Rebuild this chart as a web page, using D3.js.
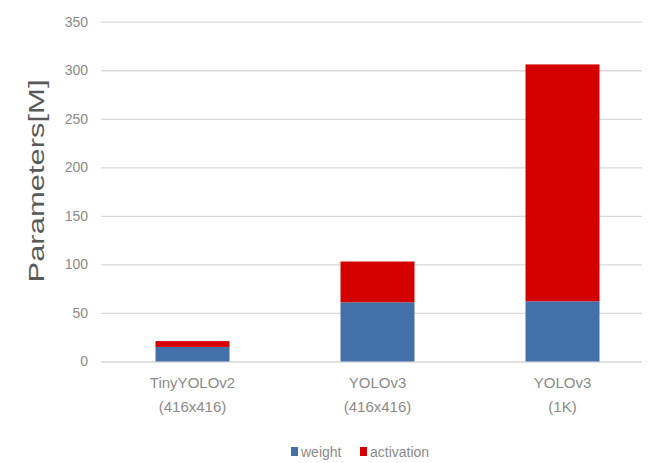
<!DOCTYPE html>
<html lang="en">
<head>
    <meta charset="UTF-8">
    <title>YOLO parameters</title>
    <script src="https://d3js.org/d3.v7.min.js"></script>
    <style>
        body { margin: 0; background: white; }
        text { font-family: "Liberation Sans", Arial, sans-serif; }
        .tick text { fill: #8a8a8a; font-size: 14px; }
        .xlab { fill: #8a8a8a; font-size: 15px; }
        .ylab { fill: #595959; font-size: 22px; }
        .legend text { fill: #8a8a8a; font-size: 14px; }
    </style>
</head>
<body>
<svg id="canvas" width="650" height="463"></svg>
<script>
    // data
    let models = ["TinyYOLOv2\n(416x416)", "YOLOv3\n(416x416)", "YOLOv3\n(1K)"];
    let weight = [15, 61, 62];
    let activation = [6, 42, 244];
    let series = ["weight", "activation"];
    let colors = ["#4470a9", "#d40000"];
    let yTicks = [0, 50, 100, 150, 200, 250, 300, 350];

    let svg = d3.select("#canvas");

    let rows = models.map(function(m, i){
        return {model: m, weight: weight[i], activation: activation[i]};
    });
    let stacked = d3.stack().keys(series)(rows);

    let x = d3.scaleBand().domain(models).range([100, 655]).paddingInner(0.6).paddingOuter(0.3);
    let y = d3.scaleLinear().domain([0, 350]).range([361.5, 21.7]);

    // gridlines + tick labels
    let yAxis = svg.append("g")
        .attr("transform", "translate(101,0)")
        .call(d3.axisLeft(y).tickValues(yTicks).tickSize(-541).tickPadding(13));
    yAxis.select(".domain").remove();
    yAxis.selectAll(".tick line").attr("stroke", "#d9d9d9").attr("stroke-width", 1.3);

    // bars
    svg.append("g").selectAll("g")
        .data(stacked)
        .join("g")
        .attr("fill", function(d, i){ return colors[i]; })
        .selectAll("rect")
        .data(function(d){ return d; })
        .join("rect")
        .attr("x", function(d){ return x(d.data.model); })
        .attr("width", x.bandwidth())
        .attr("y", function(d){ return y(d[1]); })
        .attr("height", function(d){ return y(d[0]) - y(d[1]); });

    // category labels, two lines each
    svg.append("g").selectAll("text")
        .data(models)
        .join("text")
        .attr("class", "xlab")
        .attr("text-anchor", "middle")
        .attr("x", function(d){ return x(d) + x.bandwidth() / 2; })
        .attr("y", 388)
        .selectAll("tspan")
        .data(function(d){ return d.split("\n"); })
        .join("tspan")
        .attr("x", function(){ let p = d3.select(this.parentNode); return p.attr("x"); })
        .attr("dy", function(d, i){ return i ? 24 : 0; })
        .text(function(d){ return d; });

    // axis title
    svg.append("text")
        .attr("class", "ylab")
        .attr("text-anchor", "middle")
        .attr("transform", "translate(44,181) rotate(-90)")
        .attr("textLength", 203)
        .attr("lengthAdjust", "spacingAndGlyphs")
        .text("Parameters[M]");

    // legend
    let legend = svg.append("g").attr("class", "legend");
    let legendX = [291, 360];
    series.forEach(function(s, i){
        legend.append("rect")
            .attr("x", legendX[i]).attr("y", 447)
            .attr("width", 7).attr("height", 9)
            .attr("fill", colors[i]);
        legend.append("text")
            .attr("x", legendX[i] + 10).attr("y", 457)
            .text(s);
    });
</script>
</body>
</html>
